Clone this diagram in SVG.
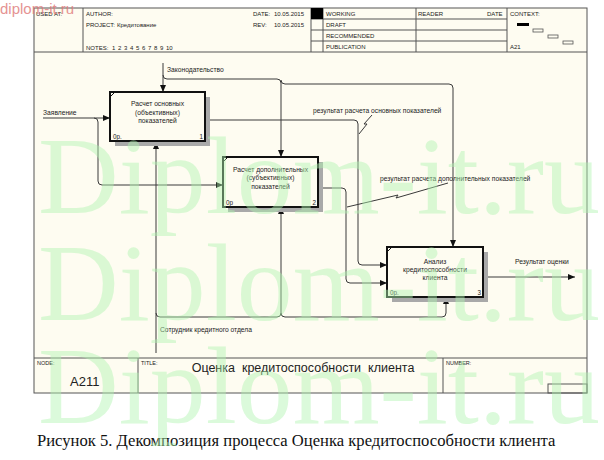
<svg xmlns="http://www.w3.org/2000/svg" width="604" height="460" viewBox="0 0 604 460">
<defs>
<marker id="arr" markerWidth="7" markerHeight="6" refX="7" refY="3" orient="auto" markerUnits="userSpaceOnUse">
<path d="M0,0 L7,3 L0,6 Z" fill="#111"/>
</marker>
<style>
.fr{fill:none;stroke:#555;stroke-width:1}
.t{font-family:"Liberation Sans",Arial,sans-serif;fill:#222}
.h{font-size:6px}
.lb{font-size:6.7px}
.bx{fill:#fefcf1;stroke:#111;stroke-width:2}
.sh{fill:#a9a9a9}
.c{fill:none;stroke:#3a3a3a;stroke-width:1}
.ca{fill:none;stroke:#3a3a3a;stroke-width:1;marker-end:url(#arr)}
.tk{stroke:#111;stroke-width:1}
.wm{font-family:"Liberation Serif","Times New Roman",serif;font-size:110px;fill:#b0f5b0;opacity:0.45}
</style>
</defs>
<rect x="0" y="0" width="604" height="460" fill="#ffffff"/>
<g id="frame">
<rect x="34" y="8" width="553" height="385" fill="#fefcf1" stroke="#555" stroke-width="1"/>
<line class="fr" x1="83" y1="8" x2="83" y2="52"/>
<line class="fr" x1="34" y1="52" x2="587" y2="52"/>
<line class="fr" x1="311" y1="8" x2="311" y2="52"/>
<line class="fr" x1="323" y1="8" x2="323" y2="52"/>
<line class="fr" x1="416" y1="8" x2="416" y2="52"/>
<line class="fr" x1="507" y1="8" x2="507" y2="52"/>
<line class="fr" x1="311" y1="19" x2="507" y2="19"/>
<line class="fr" x1="311" y1="30" x2="507" y2="30"/>
<line class="fr" x1="311" y1="41" x2="507" y2="41"/>
<rect x="311" y="8" width="12" height="11" fill="#000"/>
<rect x="517" y="23" width="12" height="3" fill="#000"/>
<rect x="533" y="29" width="10" height="3" fill="none" stroke="#555" stroke-width="0.8"/>
<rect x="548" y="35" width="10" height="3" fill="none" stroke="#555" stroke-width="0.8"/>
<rect x="563" y="41" width="10" height="3" fill="none" stroke="#555" stroke-width="0.8"/>
<line class="fr" x1="34" y1="358" x2="587" y2="358"/>
<line class="fr" x1="138" y1="358" x2="138" y2="393"/>
<line class="fr" x1="443" y1="358" x2="443" y2="393"/>
<rect x="548" y="384" width="39" height="9" fill="none" stroke="#555" stroke-width="1"/>
<g class="t h">
<text x="36" y="16">USED AT:</text>
<text x="86" y="16">AUTHOR:</text>
<text x="86" y="27">PROJECT:</text>
<text x="117" y="27">Кредитование</text>
<text x="86" y="50">NOTES:</text>
<text x="112" y="50" word-spacing="1">1 2 3 4 5 6 7 8 9 10</text>
<text x="253" y="16">DATE:</text>
<text x="274" y="16">10.05.2015</text>
<text x="253" y="27">REV:</text>
<text x="274" y="27">10.05.2015</text>
<text x="326" y="16">WORKING</text>
<text x="326" y="27">DRAFT</text>
<text x="326" y="38">RECOMMENDED</text>
<text x="326" y="49">PUBLICATION</text>
<text x="418" y="16">READER</text>
<text x="487" y="16">DATE</text>
<text x="510" y="16">CONTEXT:</text>
<text x="510" y="49">A21</text>
<text x="37" y="365" font-size="5.5">NODE:</text>
<text x="141" y="365" font-size="5.5">TITLE:</text>
<text x="446" y="365" font-size="5.5">NUMBER:</text>
</g>
<text class="t" x="70" y="386" font-size="13">A211</text>
<text class="t" x="303" y="372" font-size="12.5" text-anchor="middle" xml:space="preserve">Оценка  кредитоспособности  клиента</text>
</g>
<g id="connectors">
<path class="ca" d="M43,118 H110"/>
<path class="ca" d="M94,118 Q98,118 98,122 V181 Q98,185 102,185 H223"/>
<path class="ca" d="M163,63 V92"/>
<path class="ca" d="M163,75 Q163,79 167,79 H277 Q281,79 281,83 V157"/>
<path class="ca" d="M281,80 Q281,84 285,84 H449 Q453,84 453,88 V247"/>
<path class="ca" d="M205,120 H354 Q358,120 358,124 V261 Q358,265 362,265 H387"/>
<path class="ca" d="M318,188 H342 Q346,188 346,192 V279 Q346,283 350,283 H387"/>
<path class="ca" d="M483,277 H575"/>
<path class="ca" d="M156,353 V142"/>
<path class="ca" d="M156,313 Q156,317 160,317 H277 Q281,317 281,313 V207"/>
<path class="ca" d="M281,313 Q281,317 285,317 H442 Q446,317 446,313 V297"/>
<polyline class="c" points="359,134 367,124 364,124 372,115"/>
<polyline class="c" points="347,207 398,195 396,198 448,183"/>
<g class="t lb">
<text x="167" y="72">Законодательство</text>
<text x="43" y="115">Заявление</text>
<text x="313" y="113">результат расчета основных показателей</text>
<text x="380" y="181">результат расчета дополнительных показателей</text>
<text x="515" y="264">Результат оценки</text>
<text x="160" y="332">Сотрудник кредитного отдела</text>
</g>
</g>
<g id="box1">
<rect class="sh" x="115" y="97" width="95" height="49"/>
<rect class="bx" x="110" y="92" width="95" height="49"/>
<line class="tk" x1="110" y1="97" x2="115" y2="92"/>
<g class="t lb" text-anchor="middle">
<text x="157.5" y="106">Расчет основных</text>
<text x="157.5" y="115">(объективных)</text>
<text x="157.5" y="123">показателей</text>
</g>
<text class="t" x="113" y="139" font-size="6.3">0р.</text>
<text class="t" x="203" y="139" font-size="6.3" text-anchor="end">1</text>
</g>
<g id="box2">
<rect class="sh" x="228" y="162" width="95" height="50"/>
<rect class="bx" x="223" y="157" width="95" height="50"/>
<line class="tk" x1="223" y1="162" x2="228" y2="157"/>
<g class="t lb" text-anchor="middle">
<text x="270.5" y="172">Расчет дополнительных</text>
<text x="270.5" y="180">(субъективных)</text>
<text x="270.5" y="189">показателей</text>
</g>
<text class="t" x="226" y="205" font-size="6.3">0р</text>
<text class="t" x="316" y="205" font-size="6.3" text-anchor="end">2</text>
</g>
<g id="box3">
<rect class="sh" x="392" y="252" width="96" height="50"/>
<rect class="bx" x="387" y="247" width="96" height="50"/>
<line class="tk" x1="387" y1="252" x2="392" y2="247"/>
<g class="t lb" text-anchor="middle">
<text x="435" y="264">Анализ</text>
<text x="435" y="272">кредитоспособности</text>
<text x="435" y="280">клиента</text>
</g>
<text class="t" x="390" y="295" font-size="6.3">0р.</text>
<text class="t" x="481" y="295" font-size="6.3" text-anchor="end">3</text>
</g>
<text x="37" y="446" font-family="'Liberation Serif','Times New Roman',serif" font-size="16.6" fill="#111">Рисунок 5. Декомпозиция процесса Оценка кредитоспособности клиента</text>
<g id="watermark">
<text class="wm" x="38" y="213" textLength="562" lengthAdjust="spacingAndGlyphs">Diplom-it.ru</text>
<text class="wm" x="38" y="320" textLength="562" lengthAdjust="spacingAndGlyphs">Diplom-it.ru</text>
<text class="wm" x="38" y="423" textLength="562" lengthAdjust="spacingAndGlyphs">Diplom-it.ru</text>
<text x="0" y="14" font-family="'Liberation Sans',Arial,sans-serif" font-size="15" fill="#e07878" opacity="0.8">diplom-it.ru</text>
</g>
</svg>
